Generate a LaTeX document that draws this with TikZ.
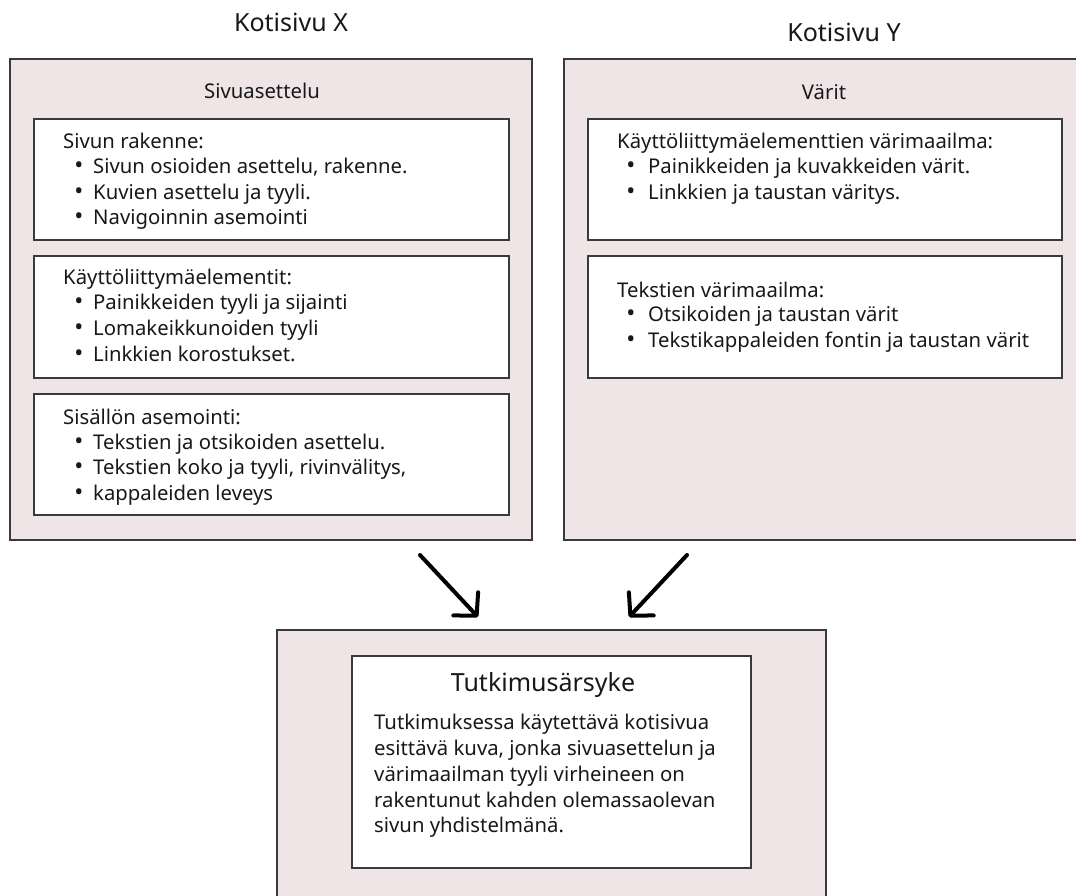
\documentclass[tikz,border=0pt]{standalone}
\usepackage{fontspec}
\setmainfont{Noto Sans}
\usetikzlibrary{arrows.meta}
\definecolor{panel}{RGB}{239,229,230}
\definecolor{edge}{RGB}{58,58,58}
\definecolor{ink}{RGB}{24,24,24}
\newcommand\myhd[4]{\node[txt,anchor=base west] (#1) at (#2,#3) {#4};}
\newcommand\mybl[5]{\node[txt,anchor=base,font=\fontsize{24}{24}\selectfont] (#1d) at (#2,#4) {•};\node[txt,anchor=base west] (#1) at (#3,#4) {#5};}
\begin{document}
\begin{tikzpicture}[x=1pt,y=-1pt,
  outer/.style={draw=edge, line width=2pt, fill=panel, inner sep=0pt},
  inner/.style={draw=edge, line width=2pt, fill=white, inner sep=0pt},
  txt/.style={inner sep=0pt, text=ink, font=\fontsize{20.3}{24}\selectfont},
  ttl/.style={inner sep=0pt, text=ink, font=\fontsize{25}{30}\selectfont},
  arr/.style={line width=4pt, line cap=round, draw=black, -{Straight Barb[length=16pt,width=34pt,round]}}]
\clip (0,0) rectangle (1076,895);
\fill[white] (0,0) rectangle (1076,895);
% outer panels
\node[outer, minimum width=522pt, minimum height=481pt] (X) at (271,299.5) {};
\node[outer, minimum width=522pt, minimum height=481pt] (Y) at (825,299.5) {};
\node[outer, minimum width=549pt, minimum height=320pt] (Z) at (551.5,790) {};
% inner boxes
\node[inner, minimum width=475pt, minimum height=121pt] (X1) at (271.5,179.5) {};
\node[inner, minimum width=475pt, minimum height=122pt] (X2) at (271.5,317) {};
\node[inner, minimum width=475pt, minimum height=121pt] (X3) at (271.5,454.5) {};
\node[inner, minimum width=474pt, minimum height=121pt] (Y1) at (825,179.5) {};
\node[inner, minimum width=474pt, minimum height=122pt] (Y2) at (825,317) {};
\node[inner, minimum width=399pt, minimum height=212pt] (Z1) at (551.5,762) {};
% titles
\node[ttl, anchor=base] (tX) at (291,31.5) {Kotisivu X};
\node[ttl, anchor=base] (tY) at (844,41.5) {Kotisivu Y};
\node[txt, anchor=base] (sX) at (262,98) {Sivuasettelu};
\node[txt, anchor=base] (sY) at (824,99) {Värit};
% left box 1
\myhd{h1}{63}{148}{Sivun rakenne:}
\mybl{a1}{79}{93}{173}{Sivun osioiden asettelu, rakenne.}
\mybl{a2}{79}{93}{199}{Kuvien asettelu ja tyyli.}
\mybl{a3}{79}{93}{224}{Navigoinnin asemointi}
% left box 2
\myhd{h2}{63}{284}{Käyttöliittymäelementit:}
\mybl{b1}{79}{93}{309}{Painikkeiden tyyli ja sijainti}
\mybl{b2}{79}{93}{335}{Lomakeikkunoiden tyyli}
\mybl{b3}{79}{93}{361}{Linkkien korostukset.}
% left box 3
\myhd{h3}{63}{424}{Sisällön asemointi:}
\mybl{c1}{79}{93}{449}{Tekstien ja otsikoiden asettelu.}
\mybl{c2}{79}{93}{474}{Tekstien koko ja tyyli, rivinvälitys,}
\mybl{c3}{79}{93}{500}{kappaleiden leveys}
% right box 1
\myhd{h4}{617}{148}{Käyttöliittymäelementtien värimaailma:}
\mybl{d1}{631}{648}{173}{Painikkeiden ja kuvakkeiden värit.}
\mybl{d2}{631}{648}{199}{Linkkien ja taustan väritys.}
% right box 2
\myhd{h5}{617}{297}{Tekstien värimaailma:}
\mybl{e1}{631}{648}{321}{Otsikoiden ja taustan värit}
\mybl{e2}{631}{648}{347}{Tekstikappaleiden fontin ja taustan värit}
% bottom
\node[ttl, anchor=base] (tZ) at (543,691) {Tutkimusärsyke};
\myhd{p1}{374}{729}{Tutkimuksessa käytettävä kotisivua}
\myhd{p2}{374}{755}{esittävä kuva, jonka sivuasettelun ja}
\myhd{p3}{374}{781}{värimaailman tyyli virheineen on}
\myhd{p4}{374}{807}{rakentunut kahden olemassaolevan}
\myhd{p5}{374}{832}{sivun yhdistelmänä.}
% arrows
\coordinate (L0) at (420,555);
\coordinate (L1) at (478,617);
\coordinate (R0) at (687,555);
\coordinate (R1) at (629,617);
\draw[arr] (L0) -- (L1);
\draw[arr] (R0) -- (R1);
\end{tikzpicture}
\end{document}
